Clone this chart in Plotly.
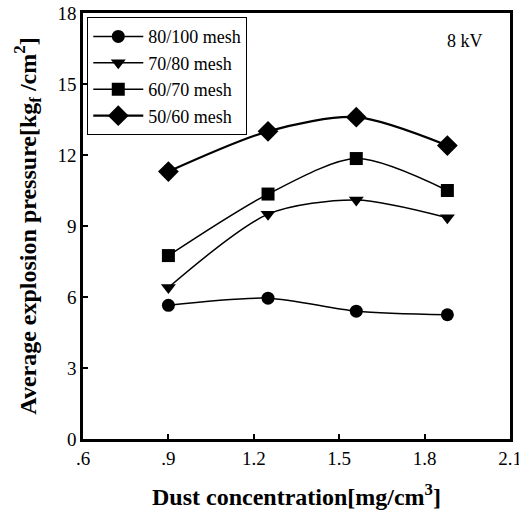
import plotly.graph_objects as go

x_vals = [0.9, 1.25, 1.56, 1.88]
series_names = ["80/100 mesh", "70/80 mesh", "60/70 mesh", "50/60 mesh"]
p_80_100 = [5.65, 5.95, 5.4, 5.25]
p_70_80 = [6.4, 9.5, 10.1, 9.35]
p_60_70 = [7.75, 10.35, 11.85, 10.5]
p_50_60 = [11.3, 13.0, 13.6, 12.4]
series_values = [p_80_100, p_70_80, p_60_70, p_50_60]
symbols = ["circle", "triangle-down", "square", "diamond"]
marker_sizes = [13, 13, 13, 16]
line_widths = [1.5, 1.5, 1.5, 2.2]

x_tickvals = [0.6, 0.9, 1.2, 1.5, 1.8, 2.1]
x_ticktext = [".6", ".9", "1.2", "1.5", "1.8", "2.1"]
y_tickvals = [0, 3, 6, 9, 12, 15, 18]

fig = go.Figure()
for name, vals, sym, ms, lw in zip(series_names, series_values, symbols, marker_sizes, line_widths):
    fig.add_trace(go.Scatter(
        x=x_vals, y=vals, name=name, mode="lines+markers",
        line=dict(color="black", width=lw, shape="spline", smoothing=0.8),
        marker=dict(symbol=sym, size=ms, color="black"),
    ))

font_family = "Liberation Serif"
fig.update_layout(
    width=519, height=516,
    margin=dict(l=83, r=9, t=13, b=77),
    paper_bgcolor="white", plot_bgcolor="white",
    font=dict(family=font_family, color="black", size=17),
    showlegend=True,
    legend=dict(
        x=0.01, y=0.99, xanchor="left", yanchor="top",
        bordercolor="black", borderwidth=1, bgcolor="white",
        font=dict(family=font_family, size=18), itemwidth=50,
        tracegroupgap=0,
    ),
    xaxis=dict(
        range=[0.6, 2.1], tickvals=x_tickvals, ticktext=x_ticktext,
        ticks="inside", ticklen=5, tickcolor="black", tickwidth=1.5,
        showgrid=False, zeroline=False, showline=True, linecolor="black",
        linewidth=2.5, mirror=True, automargin=False,
        ticklabeloverflow="allow",
        tickfont=dict(family=font_family, size=19),
        title=dict(text="<b>Dust concentration[mg/cm<sup>3</sup>]</b>",
                   font=dict(family=font_family, size=24), standoff=21),
    ),
    yaxis=dict(
        range=[0, 18], tickvals=y_tickvals,
        ticks="inside", ticklen=5, tickcolor="black", tickwidth=1.5,
        showgrid=False, zeroline=False, showline=True, linecolor="black",
        linewidth=2.5, mirror=True, automargin=False,
        tickfont=dict(family=font_family, size=19),
        title=dict(text="<b>Average explosion pressure[kg<sub>f</sub> /cm<sup>2</sup>]</b>",
                   font=dict(family=font_family, size=24), standoff=15),
    ),
    annotations=[dict(
        x=0.942, y=0.963, xref="paper", yref="paper", text="8 kV",
        showarrow=False, font=dict(family=font_family, size=18),
    )],
)

fig.write_html("out.html", config={"displayModeBar": False},
               post_script="document.body.style.margin='0';")
